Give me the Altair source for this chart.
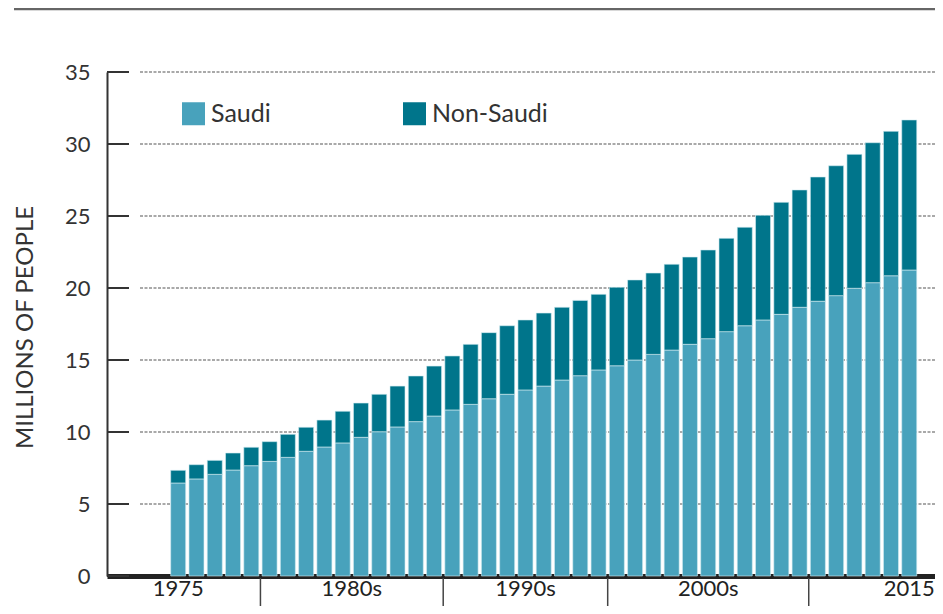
import altair as alt
import pandas as pd

years = list(range(1975, 2016))
saudi = [6.46, 6.74, 7.06, 7.36, 7.66, 7.96, 8.24, 8.66, 8.96, 9.24,
         9.63, 10.02, 10.35, 10.72, 11.11, 11.53, 11.92, 12.31, 12.62, 12.92,
         13.19, 13.61, 13.91, 14.31, 14.60, 15.00, 15.39, 15.69, 16.09, 16.48,
         16.97, 17.38, 17.78, 18.17, 18.66, 19.08, 19.47, 19.98, 20.37, 20.85,
         21.25]
non_saudi = [0.88, 0.99, 0.97, 1.18, 1.28, 1.37, 1.60, 1.67, 1.87, 2.20,
             2.38, 2.60, 2.84, 3.17, 3.47, 3.75, 4.17, 4.59, 4.76, 4.86,
             5.07, 5.05, 5.23, 5.25, 5.45, 5.56, 5.65, 5.96, 6.06, 6.16,
             6.48, 6.84, 7.27, 7.78, 8.15, 8.63, 9.02, 9.30, 9.72, 10.03,
             10.42]
series = ["Saudi", "Non-Saudi"]
colors = ["#48a2bc", "#00758b"]

y_ticks = [0, 5, 10, 15, 20, 25, 30, 35]
grid_values = [5, 10, 15, 20, 25, 30, 35]
x_label_text = ["1975", "1980s", "1990s", "2000s", "2015"]
x_label_pos = [1975, 1984.5, 1994, 2004, 2015]
separator_pos = [1979.5, 1989.5, 1998.5, 2009.5]

rows = []
for i, yr in enumerate(years):
    rows.append({"year": yr, "series": "Saudi", "value": saudi[i], "ord": 0})
    rows.append({"year": yr, "series": "Non-Saudi", "value": non_saudi[i], "ord": 1})
df = pd.DataFrame(rows)

FONT = "Lato"
W, H = 828, 504
xscale = alt.Scale(domain=[1971.378, 2016.135], nice=False, zero=False)
yscale = alt.Scale(domain=[0, 35], nice=False)

bars = alt.Chart(df).mark_bar(width=15, stroke="#d4ecf2", strokeWidth=0.6).encode(
    x=alt.X("year:Q", scale=xscale,
            axis=alt.Axis(labels=False, ticks=False, grid=False, title=None,
                          domainWidth=5, domainColor="#222222")),
    y=alt.Y("value:Q", stack="zero", scale=yscale,
            axis=alt.Axis(values=y_ticks, grid=False, ticks=False, domain=True,
                          domainColor="#333333", domainWidth=2,
                          labelFont=FONT, labelFontSize=22, labelColor="#333333",
                          labelPadding=17,
                          title="MILLIONS OF PEOPLE", titleFont=FONT,
                          titleFontSize=24, titleFontWeight="normal",
                          titleColor="#333333", titleAngle=270,
                          titleX=-82, titleY=255, titleAlign="center",
                          titleBaseline="middle")),
    color=alt.Color("series:N", scale=alt.Scale(domain=series, range=colors),
                    legend=alt.Legend(title=None, orient="none", direction="horizontal",
                                      legendX=74, legendY=29, padding=0,
                                      symbolType="square", symbolSize=529,
                                      symbolStrokeWidth=0, symbolOpacity=1,
                                      labelFont=FONT, labelFontSize=25,
                                      labelColor="#333333", labelOffset=5,
                                      columnPadding=131)),
    order=alt.Order("ord:Q", sort="ascending"),
)

grid_df = pd.DataFrame({"v": grid_values})
grid = alt.Chart(grid_df).mark_rule(color="#555555", strokeWidth=1.2,
                                     strokeDash=[3, 1.5]).encode(
    y=alt.Y("v:Q", scale=yscale),
    x=alt.value(33), x2=alt.value(W),
)

tick_df = pd.DataFrame({"v": y_ticks})
ticks = alt.Chart(tick_df).mark_rule(color="#333333", strokeWidth=2).encode(
    y=alt.Y("v:Q", scale=yscale),
    x=alt.value(0), x2=alt.value(22),
)

sep_df = pd.DataFrame({"p": separator_pos})
seps = alt.Chart(sep_df).mark_rule(color="#444444", strokeWidth=1.5).encode(
    x=alt.X("p:Q", scale=xscale),
    y=alt.value(506), y2=alt.value(534),
)

lab_df = pd.DataFrame({"p": x_label_pos, "t": x_label_text})
xlabels = alt.Chart(lab_df).mark_text(font=FONT, fontSize=22, color="#222222",
                                       baseline="middle", align="center").encode(
    x=alt.X("p:Q", scale=xscale),
    y=alt.value(517),
    text="t:N",
)

topline = alt.Chart(pd.DataFrame({"a": [0]})).mark_rule(color="#666666", strokeWidth=2.5).encode(
    x=alt.value(-93), x2=alt.value(W), y=alt.value(-63),
)

chart = alt.layer(grid, ticks, bars, seps, xlabels, topline).properties(
    width=W, height=H,
    autosize=alt.AutoSizeParams(type="none"),
    padding={"left": 99, "top": 64, "right": 0, "bottom": 30},
).configure_view(stroke=None)

chart.save("out.html", embed_options={"renderer": "svg", "actions": False})
